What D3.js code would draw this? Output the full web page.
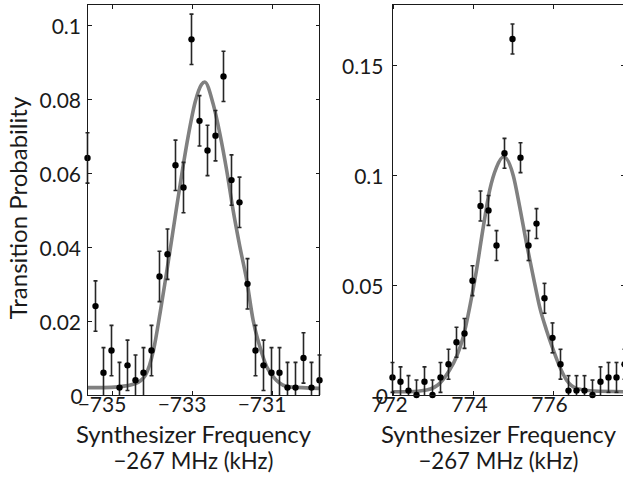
<!DOCTYPE html>
<html>
<head>
<meta charset="utf-8">
<script src="https://cdn.jsdelivr.net/npm/d3@7/dist/d3.min.js"></script>
<style>
  html, body { margin: 0; padding: 0; background: #fff; }
  svg { display: block; }
  text { font-family: Lato, "Open Sans", sans-serif; fill: #1a1a1a; }
</style>
</head>
<body>
<svg id="chart" width="623" height="480"></svg>
<script>
// ---------------- DATA ----------------
// Left panel: frequency offset (kHz) relative to -267 MHz
const leftFreq = [-735.6, -735.4, -735.2, -735.0, -734.8, -734.6, -734.4, -734.2, -734.0, -733.8,
                  -733.6, -733.4, -733.2, -733.0, -732.8, -732.6, -732.4, -732.2, -732.0, -731.8,
                  -731.6, -731.4, -731.2, -731.0, -730.8, -730.6, -730.4, -730.2, -730.0, -729.8];
const leftProb = [0.064, 0.024, 0.006, 0.012, 0.002, 0.008, 0.004, 0.006, 0.012, 0.032,
                  0.038, 0.062, 0.056, 0.096, 0.074, 0.066, 0.070, 0.086, 0.058, 0.052,
                  0.030, 0.012, 0.008, 0.006, 0.006, 0.002, 0.002, 0.010, 0.002, 0.004];
const leftErr  = [0.0068, 0.0068, 0.0068, 0.0068, 0.0068, 0.0068, 0.0068, 0.0068, 0.0068, 0.0068,
                  0.0068, 0.0068, 0.0068, 0.0068, 0.0068, 0.0068, 0.0068, 0.0068, 0.0068, 0.0068,
                  0.0068, 0.0068, 0.0068, 0.0068, 0.0068, 0.0068, 0.0068, 0.0068, 0.0068, 0.0068];
// fitted line shape
const leftFitFreq = [-735.6, -735.2, -734.82, -734.4, -734.15, -733.95, -733.78, -733.66, -733.53, -733.41,
                     -733.24, -733.08, -732.91, -732.75, -732.67, -732.46, -732.29, -732.12, -731.96, -731.79,
                     -731.62, -731.46, -731.29, -731.12, -730.88, -730.55, -729.8];
const leftFitProb = [0.0020, 0.0020, 0.0022, 0.0031, 0.0054, 0.0121, 0.0225, 0.0305, 0.0395, 0.0480,
                     0.0598, 0.0700, 0.0790, 0.0838, 0.0845, 0.0786, 0.0705, 0.0606, 0.0499, 0.0400,
                     0.0310, 0.0202, 0.0130, 0.0076, 0.0040, 0.0022, 0.0018];

// Right panel
const rightFreq = [772.0, 772.2, 772.4, 772.6, 772.8, 773.0, 773.2, 773.4, 773.6, 773.8,
                   774.0, 774.2, 774.4, 774.6, 774.8, 775.0, 775.2, 775.4, 775.6, 775.8,
                   776.0, 776.2, 776.4, 776.6, 776.8, 777.0, 777.2, 777.4, 777.6, 777.8];
const rightProb = [0.008, 0.006, 0.002, 0.000, 0.006, 0.000, 0.008, 0.014, 0.024, 0.028,
                   0.052, 0.086, 0.084, 0.068, 0.110, 0.162, 0.108, 0.068, 0.078, 0.044,
                   0.026, 0.014, 0.002, 0.002, 0.002, 0.000, 0.006, 0.008, 0.008, 0.014];
const rightErr  = [0.0068, 0.0068, 0.0068, 0.0068, 0.0068, 0.0068, 0.0068, 0.0068, 0.0068, 0.0068,
                   0.0068, 0.0068, 0.0068, 0.0068, 0.0068, 0.0068, 0.0068, 0.0068, 0.0068, 0.0068,
                   0.0068, 0.0068, 0.0068, 0.0068, 0.0068, 0.0068, 0.0068, 0.0068, 0.0068, 0.0068];
const rightFitFreq = [772.0, 772.43, 772.85, 773.18, 773.43, 773.60, 773.77, 773.93, 774.10, 774.27,
                      774.43, 774.60, 774.78, 775.02, 775.18, 775.35, 775.52, 775.68, 775.85, 776.02,
                      776.18, 776.35, 776.60, 777.02, 777.8];
const rightFitProb = [0.0015, 0.0015, 0.0023, 0.0053, 0.0114, 0.0174, 0.0265, 0.0400, 0.0568, 0.0765,
                      0.0932, 0.1036, 0.1084, 0.0998, 0.0856, 0.0690, 0.0538, 0.0400, 0.0295, 0.0205,
                      0.0129, 0.0068, 0.0030, 0.0018, 0.0015];

// Tick values / labels
const leftXTicks = [-735, -733, -731];
const leftYTicks = [0, 0.02, 0.04, 0.06, 0.08, 0.1];
const rightXTicks = [772, 774, 776];
const rightYTicks = [0, 0.05, 0.1, 0.15];
const leftXDomain = [-735.6, -729.8];
const rightXDomain = [772.0, 777.8];
const leftYDomain = [0, 0.1054];
const rightYDomain = [0, 0.1777];

const xLabelLines = ["Synthesizer Frequency", "\u2212267 MHz (kHz)"];
const yLabel = "Transition Probability";

// ---------------- DRAW ----------------
const svg = d3.select("#chart");
const fmt = v => (v < 0 ? "\u2212" + Math.abs(v) : String(v));

function panel(cfg) {
  const x = d3.scaleLinear().domain(cfg.xDomain).range([cfg.x0, cfg.x1]);
  const y = d3.scaleLinear().domain(cfg.yDomain).range([cfg.y1, cfg.y0]);
  const g = svg.append("g");

  const clipId = "clip" + cfg.id;
  svg.append("clipPath").attr("id", clipId).append("rect")
    .attr("x", cfg.x0 - 10).attr("y", cfg.y0).attr("width", cfg.x1 - cfg.x0 + 20).attr("height", cfg.y1 - cfg.y0);

  // fit curve
  const line = d3.line().x(d => x(d[0])).y(d => y(d[1])).curve(d3.curveMonotoneX);
  g.append("path")
    .datum(d3.zip(cfg.fitX, cfg.fitY))
    .attr("d", line)
    .attr("fill", "none")
    .attr("stroke", "#808080")
    .attr("stroke-width", 3.6)
    .attr("clip-path", `url(#${clipId})`);

  // error bars
  const pts = cfg.px.map((f, i) => ({ f, p: cfg.py[i], e: cfg.pe[i] }));
  const eb = g.append("g").attr("clip-path", `url(#${clipId})`)
    .attr("stroke", "#262626").attr("stroke-width", 1.6).attr("fill", "none");
  eb.selectAll("line.v").data(pts).join("line")
    .attr("x1", d => x(d.f)).attr("x2", d => x(d.f))
    .attr("y1", d => y(d.p - d.e)).attr("y2", d => y(d.p + d.e));
  eb.selectAll("line.t").data(pts).join("line")
    .attr("x1", d => x(d.f) - 2).attr("x2", d => x(d.f) + 2)
    .attr("y1", d => y(d.p + d.e)).attr("y2", d => y(d.p + d.e));
  eb.selectAll("line.b").data(pts).join("line")
    .attr("x1", d => x(d.f) - 2).attr("x2", d => x(d.f) + 2)
    .attr("y1", d => y(d.p - d.e)).attr("y2", d => y(d.p - d.e));

  // points
  g.append("g").selectAll("circle").data(pts).join("circle")
    .attr("cx", d => x(d.f)).attr("cy", d => y(d.p)).attr("r", 3.2).attr("fill", "#000");

  // box axes with inward ticks
  const axG = svg.append("g").attr("shape-rendering", "crispEdges");
  const tl = 4;
  const bottom = d3.axisBottom(x).tickValues(cfg.xTicks).tickSizeInner(-tl).tickSizeOuter(0).tickFormat("");
  const top = d3.axisTop(x).tickValues(cfg.xTicks).tickSizeInner(-tl).tickSizeOuter(0).tickFormat("");
  const left = d3.axisLeft(y).tickValues(cfg.yTicks).tickSizeInner(-tl).tickSizeOuter(0).tickFormat("");
  const right = d3.axisRight(y).tickValues(cfg.yTicks).tickSizeInner(-tl).tickSizeOuter(0).tickFormat("");
  axG.append("g").attr("transform", `translate(0,${cfg.y1})`).call(bottom);
  axG.append("g").attr("transform", `translate(0,${cfg.y0})`).call(top);
  axG.append("g").attr("transform", `translate(${cfg.x0},0)`).call(left);
  axG.append("g").attr("transform", `translate(${cfg.x1},0)`).call(right);
  axG.selectAll("path.domain").remove();
  axG.selectAll(".tick line").attr("stroke", "#1a1a1a");
  axG.append("rect")
    .attr("x", cfg.x0).attr("y", cfg.y0).attr("width", cfg.x1 - cfg.x0).attr("height", cfg.y1 - cfg.y0)
    .attr("fill", "none").attr("stroke", "#1a1a1a").attr("stroke-width", 1);

  // tick labels
  svg.append("g").selectAll("text").data(cfg.xTicks).join("text")
    .attr("x", d => x(d) + cfg.xLabDx).attr("y", 411.5)
    .attr("text-anchor", "middle").attr("font-size", 21)
    .text(fmt);
  svg.append("g").selectAll("text").data(cfg.yTicks).join("text")
    .attr("x", d => (d === 0 ? cfg.yLabX + cfg.zeroDx : cfg.yLabX)).attr("y", d => y(d) + 9)
    .attr("text-anchor", "end").attr("font-size", 21)
    .text(d => String(d));

  // x label
  const cx = (cfg.x0 + cfg.x1) / 2 - 10;
  svg.append("text").attr("x", cx).attr("y", 443.3).attr("text-anchor", "middle")
    .attr("font-size", 24).attr("textLength", 235).attr("lengthAdjust", "spacingAndGlyphs")
    .text(xLabelLines[0]);
  svg.append("text").attr("x", cx).attr("y", 469).attr("text-anchor", "middle")
    .attr("font-size", 24).attr("textLength", 160).attr("lengthAdjust", "spacingAndGlyphs")
    .text(xLabelLines[1]);
}

panel({ id: "L", x0: 87.5, x1: 319.5, y0: 4.5, y1: 395,
        xDomain: leftXDomain, yDomain: leftYDomain,
        px: leftFreq, py: leftProb, pe: leftErr, fitX: leftFitFreq, fitY: leftFitProb,
        xTicks: leftXTicks, yTicks: leftYTicks, xLabDx: -9.5, yLabX: 81, zeroDx: 1.7 });
panel({ id: "R", x0: 392.5, x1: 624.5, y0: 4.5, y1: 395,
        xDomain: rightXDomain, yDomain: rightYDomain,
        px: rightFreq, py: rightProb, pe: rightErr, fitX: rightFitFreq, fitY: rightFitProb,
        xTicks: rightXTicks, yTicks: rightYTicks, xLabDx: -3, yLabX: 383.5, zeroDx: 4.5 });

// y label
svg.append("text")
  .attr("transform", "translate(27,208) rotate(-90)")
  .attr("text-anchor", "middle").attr("font-size", 24)
  .text(yLabel);
</script>
</body>
</html>
